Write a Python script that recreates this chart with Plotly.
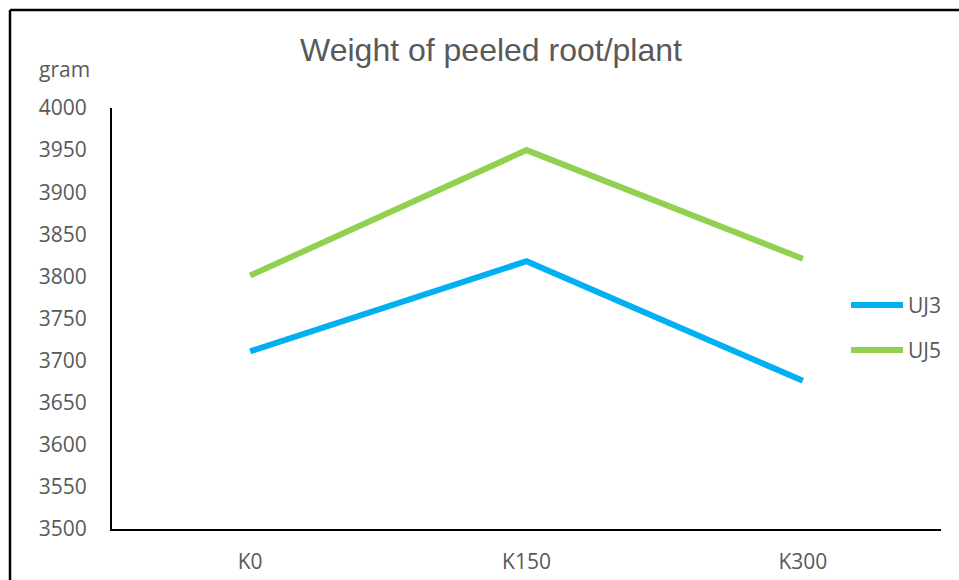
import plotly.graph_objects as go

# Treatments on the x axis and the mean weight per plant (gram) for each variety
treatments = ["K0", "K150", "K300"]
series_names = ["UJ3", "UJ5"]
uj3_weight = [3711, 3818, 3676]
uj5_weight = [3801, 3950, 3821]
series_values = [uj3_weight, uj5_weight]
series_colors = ["#00B0F0", "#92D050"]

y_ticks = list(range(3500, 4001, 50))

W, H = 959, 580
L, R, T, B = 112, 18, 108, 51
PW, PH = W - L - R, H - T - B


def px_x(x):
    """Pixel x -> paper x."""
    return (x - L) / PW


def px_y(y):
    """Pixel y (from top) -> paper y."""
    return (H - B - y) / PH


fig = go.Figure()
for name, vals, col in zip(series_names, series_values, series_colors):
    fig.add_trace(go.Scatter(
        x=treatments, y=vals, name=name, mode="lines",
        line=dict(color=col, width=6),
        showlegend=False,
    ))

text_col = "#595959"
tick_font = dict(family="Open Sans", size=21, color=text_col)

shapes = []
annotations = []

# Legend drawn to the right of the plot
for i, (name, col) in enumerate(zip(series_names, series_colors)):
    yy = 305 + i * 45
    shapes.append(dict(type="line", xref="paper", yref="paper",
                       x0=px_x(851), x1=px_x(903), y0=px_y(yy), y1=px_y(yy),
                       line=dict(color=col, width=6), layer="above"))
    annotations.append(dict(text=name, xref="paper", yref="paper",
                            x=px_x(906), y=px_y(yy), xanchor="left",
                            yanchor="middle", showarrow=False,
                            font=dict(family="Open Sans", size=21, color=text_col)))

# Outer frame (left and top edges)
shapes.append(dict(type="line", xref="paper", yref="paper",
                   x0=px_x(10), x1=px_x(10), y0=px_y(10), y1=px_y(600),
                   line=dict(color="#000000", width=2.5)))
shapes.append(dict(type="line", xref="paper", yref="paper",
                   x0=px_x(10), x1=px_x(980), y0=px_y(10), y1=px_y(10),
                   line=dict(color="#000000", width=2.5)))

# Unit label above the y axis
annotations.append(dict(text="gram", xref="paper", yref="paper",
                        x=px_x(64), y=px_y(69), xanchor="center",
                        yanchor="middle", showarrow=False, font=tick_font))

fig.update_layout(
    width=W, height=H,
    margin=dict(l=L, r=R, t=T, b=B, pad=0),
    paper_bgcolor="white", plot_bgcolor="white",
    title=dict(text="Weight of peeled root/plant",
               x=491 / W, xref="container", xanchor="center",
               y=1 - 50 / H, yref="container", yanchor="middle",
               font=dict(family="Liberation Sans", size=32, color=text_col)),
    shapes=shapes, annotations=annotations,
    showlegend=False,
)

fig.update_xaxes(
    type="category", categoryorder="array", categoryarray=treatments,
    range=[-0.5, 2.5], showgrid=False, zeroline=False, automargin=False,
    showline=True, linecolor="#000000", linewidth=2,
    ticks="", tickfont=tick_font, ticklabelstandoff=13,
)
fig.update_yaxes(
    range=[3500, 4000], tickvals=y_ticks, showgrid=False, zeroline=False,
    automargin=False,
    showline=True, linecolor="#000000", linewidth=2,
    ticks="", tickfont=tick_font, ticklabelstandoff=19,
)

fig.write_html("out.html")
